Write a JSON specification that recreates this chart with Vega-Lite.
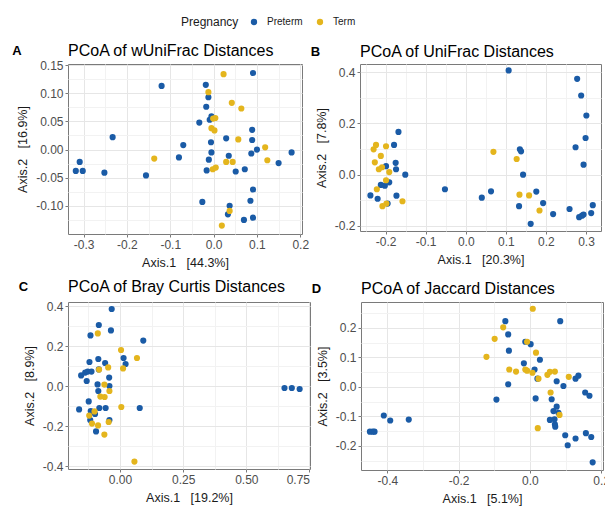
{
  "$schema": "https://vega.github.io/schema/vega-lite/v6.json",
  "padding": {"left": 12, "right": 0, "top": 17, "bottom": 2},
  "config": {
    "font": "Liberation Sans",
    "view": {"stroke": "#7a7a7a", "strokeWidth": 1},
    "axis": {"domain": false, "tickColor": "#7a7a7a", "tickSize": 3, "labelColor": "#4d4d4d", "labelFontSize": 12, "titleColor": "#1a1a1a", "titleFontSize": 12.5, "titleFontWeight": "normal", "gridColor": "#E6E6E6", "labelPadding": 2, "titlePadding": 6},
    "title": {"fontSize": 16, "fontWeight": "normal", "anchor": "start", "color": "#000000"}
  },
  "datasets": {
    "a": [
      {"g":"Preterm","x":0.091,"y":0.136},{"g":"Preterm","x":-0.120,"y":0.113},{"g":"Preterm","x":-0.018,"y":0.115},{"g":"Preterm","x":-0.012,"y":0.093},{"g":"Preterm","x":-0.017,"y":0.076},{"g":"Preterm","x":-0.005,"y":0.059},{"g":"Preterm","x":-0.009,"y":0.053},{"g":"Preterm","x":-0.033,"y":0.048},{"g":"Preterm","x":-0.233,"y":0.022},{"g":"Preterm","x":-0.070,"y":0.008},{"g":"Preterm","x":-0.309,"y":-0.022},{"g":"Preterm","x":-0.318,"y":-0.038},{"g":"Preterm","x":-0.302,"y":-0.038},{"g":"Preterm","x":-0.252,"y":-0.041},{"g":"Preterm","x":-0.156,"y":-0.046},{"g":"Preterm","x":-0.080,"y":-0.014},{"g":"Preterm","x":0.089,"y":0.035},{"g":"Preterm","x":0.089,"y":0.017},{"g":"Preterm","x":-0.006,"y":0.013},{"g":"Preterm","x":0.029,"y":0.020},{"g":"Preterm","x":-0.005,"y":-0.005},{"g":"Preterm","x":0.035,"y":-0.011},{"g":"Preterm","x":0.087,"y":-0.007},{"g":"Preterm","x":0.100,"y":0.000},{"g":"Preterm","x":0.180,"y":-0.005},{"g":"Preterm","x":0.150,"y":-0.024},{"g":"Preterm","x":-0.011,"y":-0.018},{"g":"Preterm","x":-0.016,"y":-0.037},{"g":"Preterm","x":0.051,"y":-0.039},{"g":"Preterm","x":0.072,"y":-0.035},{"g":"Preterm","x":0.091,"y":-0.071},{"g":"Preterm","x":-0.026,"y":-0.093},{"g":"Preterm","x":0.037,"y":-0.100},{"g":"Preterm","x":0.085,"y":-0.091},{"g":"Preterm","x":0.033,"y":-0.115},{"g":"Preterm","x":0.070,"y":-0.125},{"g":"Preterm","x":0.091,"y":-0.121},
      {"g":"Term","x":0.023,"y":0.134},{"g":"Term","x":-0.012,"y":0.102},{"g":"Term","x":0.042,"y":0.083},{"g":"Term","x":0.064,"y":0.073},{"g":"Term","x":0.004,"y":0.056},{"g":"Term","x":-0.001,"y":0.055},{"g":"Term","x":-0.005,"y":0.038},{"g":"Term","x":0.002,"y":0.034},{"g":"Term","x":0.057,"y":0.018},{"g":"Term","x":0.119,"y":0.004},{"g":"Term","x":-0.137,"y":-0.016},{"g":"Term","x":0.029,"y":-0.022},{"g":"Term","x":0.044,"y":-0.022},{"g":"Term","x":0.124,"y":-0.019},{"g":"Term","x":-0.002,"y":-0.035},{"g":"Term","x":0.005,"y":-0.032},{"g":"Term","x":0.037,"y":-0.109},{"g":"Term","x":0.019,"y":-0.135}
    ],
    "b": [
      {"g":"Preterm","x":0.107,"y":0.407},{"g":"Preterm","x":0.278,"y":0.374},{"g":"Preterm","x":0.288,"y":0.309},{"g":"Preterm","x":0.301,"y":0.231},{"g":"Preterm","x":0.299,"y":0.143},{"g":"Preterm","x":0.274,"y":0.107},{"g":"Preterm","x":0.294,"y":0.039},{"g":"Preterm","x":-0.168,"y":0.167},{"g":"Preterm","x":-0.179,"y":0.116},{"g":"Preterm","x":-0.175,"y":0.046},{"g":"Preterm","x":-0.174,"y":0.021},{"g":"Preterm","x":-0.151,"y":0.000},{"g":"Preterm","x":-0.199,"y":0.033},{"g":"Preterm","x":-0.212,"y":-0.040},{"g":"Preterm","x":-0.191,"y":-0.030},{"g":"Preterm","x":-0.202,"y":-0.043},{"g":"Preterm","x":-0.238,"y":-0.081},{"g":"Preterm","x":-0.220,"y":-0.094},{"g":"Preterm","x":-0.173,"y":-0.082},{"g":"Preterm","x":-0.195,"y":-0.113},{"g":"Preterm","x":-0.052,"y":-0.057},{"g":"Preterm","x":0.040,"y":-0.090},{"g":"Preterm","x":0.063,"y":-0.065},{"g":"Preterm","x":0.133,"y":-0.123},{"g":"Preterm","x":0.135,"y":0.099},{"g":"Preterm","x":0.138,"y":0.091},{"g":"Preterm","x":0.143,"y":0.000},{"g":"Preterm","x":0.176,"y":-0.066},{"g":"Preterm","x":0.193,"y":-0.111},{"g":"Preterm","x":0.218,"y":-0.154},{"g":"Preterm","x":0.162,"y":-0.192},{"g":"Preterm","x":0.259,"y":-0.134},{"g":"Preterm","x":0.283,"y":-0.166},{"g":"Preterm","x":0.290,"y":-0.160},{"g":"Preterm","x":0.294,"y":-0.156},{"g":"Preterm","x":0.313,"y":-0.150},{"g":"Preterm","x":0.317,"y":-0.119},
      {"g":"Term","x":-0.230,"y":0.099},{"g":"Term","x":-0.224,"y":0.116},{"g":"Term","x":-0.199,"y":0.111},{"g":"Term","x":-0.212,"y":0.073},{"g":"Term","x":-0.227,"y":0.048},{"g":"Term","x":-0.209,"y":0.029},{"g":"Term","x":-0.217,"y":0.021},{"g":"Term","x":-0.191,"y":0.010},{"g":"Term","x":-0.199,"y":-0.022},{"g":"Term","x":-0.222,"y":-0.057},{"g":"Term","x":-0.208,"y":-0.123},{"g":"Term","x":-0.198,"y":-0.113},{"g":"Term","x":-0.158,"y":-0.104},{"g":"Term","x":0.069,"y":0.089},{"g":"Term","x":0.127,"y":0.061},{"g":"Term","x":0.134,"y":-0.078},{"g":"Term","x":0.158,"y":-0.081},{"g":"Term","x":0.184,"y":-0.140}
    ],
    "c": [
      {"g":"Preterm","x":-0.033,"y":0.385},{"g":"Preterm","x":-0.084,"y":0.305},{"g":"Preterm","x":-0.036,"y":0.278},{"g":"Preterm","x":-0.117,"y":0.253},{"g":"Preterm","x":0.092,"y":0.227},{"g":"Preterm","x":0.014,"y":0.140},{"g":"Preterm","x":0.022,"y":0.110},{"g":"Preterm","x":-0.121,"y":0.120},{"g":"Preterm","x":-0.086,"y":0.135},{"g":"Preterm","x":-0.059,"y":0.115},{"g":"Preterm","x":-0.154,"y":0.053},{"g":"Preterm","x":-0.138,"y":0.067},{"g":"Preterm","x":-0.128,"y":0.072},{"g":"Preterm","x":-0.113,"y":0.072},{"g":"Preterm","x":-0.132,"y":0.025},{"g":"Preterm","x":-0.084,"y":0.083},{"g":"Preterm","x":-0.043,"y":0.042},{"g":"Preterm","x":-0.089,"y":0.008},{"g":"Preterm","x":-0.042,"y":0.000},{"g":"Preterm","x":-0.086,"y":-0.025},{"g":"Preterm","x":-0.124,"y":-0.077},{"g":"Preterm","x":-0.162,"y":-0.117},{"g":"Preterm","x":-0.082,"y":-0.110},{"g":"Preterm","x":-0.057,"y":-0.110},{"g":"Preterm","x":0.078,"y":-0.110},{"g":"Preterm","x":-0.116,"y":-0.125},{"g":"Preterm","x":-0.099,"y":-0.140},{"g":"Preterm","x":-0.118,"y":-0.170},{"g":"Preterm","x":-0.042,"y":-0.170},{"g":"Preterm","x":-0.095,"y":-0.227},{"g":"Preterm","x":0.651,"y":-0.010},{"g":"Preterm","x":0.680,"y":-0.010},{"g":"Preterm","x":0.711,"y":-0.015},
      {"g":"Term","x":-0.088,"y":0.263},{"g":"Term","x":0.004,"y":0.180},{"g":"Term","x":0.067,"y":0.140},{"g":"Term","x":0.012,"y":0.088},{"g":"Term","x":-0.083,"y":0.082},{"g":"Term","x":-0.047,"y":0.093},{"g":"Term","x":-0.062,"y":0.007},{"g":"Term","x":-0.042,"y":-0.025},{"g":"Term","x":-0.078,"y":-0.053},{"g":"Term","x":-0.061,"y":-0.055},{"g":"Term","x":0.005,"y":-0.105},{"g":"Term","x":-0.122,"y":-0.148},{"g":"Term","x":-0.101,"y":-0.127},{"g":"Term","x":-0.111,"y":-0.188},{"g":"Term","x":-0.087,"y":-0.197},{"g":"Term","x":-0.045,"y":-0.180},{"g":"Term","x":-0.062,"y":-0.243},{"g":"Term","x":0.057,"y":-0.378}
    ],
    "d": [
      {"g":"Preterm","x":-0.069,"y":0.223},{"g":"Preterm","x":0.085,"y":0.223},{"g":"Preterm","x":-0.061,"y":0.178},{"g":"Preterm","x":-0.013,"y":0.153},{"g":"Preterm","x":0.002,"y":0.145},{"g":"Preterm","x":-0.059,"y":0.123},{"g":"Preterm","x":0.028,"y":0.092},{"g":"Preterm","x":-0.017,"y":0.080},{"g":"Preterm","x":0.013,"y":0.059},{"g":"Preterm","x":0.021,"y":0.028},{"g":"Preterm","x":0.128,"y":0.028},{"g":"Preterm","x":0.136,"y":0.038},{"g":"Preterm","x":-0.061,"y":0.009},{"g":"Preterm","x":0.075,"y":0.019},{"g":"Preterm","x":0.094,"y":0.003},{"g":"Preterm","x":-0.094,"y":-0.043},{"g":"Preterm","x":0.016,"y":-0.039},{"g":"Preterm","x":0.061,"y":-0.042},{"g":"Preterm","x":0.155,"y":-0.019},{"g":"Preterm","x":0.167,"y":-0.030},{"g":"Preterm","x":0.075,"y":-0.067},{"g":"Preterm","x":0.066,"y":-0.082},{"g":"Preterm","x":0.080,"y":-0.088},{"g":"Preterm","x":0.056,"y":-0.112},{"g":"Preterm","x":0.069,"y":-0.110},{"g":"Preterm","x":0.070,"y":-0.127},{"g":"Preterm","x":0.071,"y":-0.135},{"g":"Preterm","x":0.099,"y":-0.164},{"g":"Preterm","x":0.106,"y":-0.198},{"g":"Preterm","x":0.128,"y":-0.175},{"g":"Preterm","x":0.157,"y":-0.157},{"g":"Preterm","x":0.172,"y":-0.170},{"g":"Preterm","x":0.176,"y":-0.256},{"g":"Preterm","x":-0.410,"y":-0.097},{"g":"Preterm","x":-0.392,"y":-0.114},{"g":"Preterm","x":-0.340,"y":-0.111},{"g":"Preterm","x":-0.449,"y":-0.152},{"g":"Preterm","x":-0.441,"y":-0.152},{"g":"Preterm","x":-0.436,"y":-0.152},
      {"g":"Term","x":0.008,"y":0.265},{"g":"Term","x":-0.075,"y":0.202},{"g":"Term","x":-0.099,"y":0.163},{"g":"Term","x":-0.122,"y":0.102},{"g":"Term","x":-0.008,"y":0.153},{"g":"Term","x":0.017,"y":0.116},{"g":"Term","x":-0.058,"y":0.059},{"g":"Term","x":-0.039,"y":0.052},{"g":"Term","x":-0.013,"y":0.059},{"g":"Term","x":-0.008,"y":0.055},{"g":"Term","x":0.007,"y":0.048},{"g":"Term","x":0.024,"y":0.028},{"g":"Term","x":0.049,"y":0.041},{"g":"Term","x":0.056,"y":0.051},{"g":"Term","x":0.070,"y":0.052},{"g":"Term","x":0.109,"y":0.034},{"g":"Term","x":0.058,"y":-0.019},{"g":"Term","x":0.083,"y":-0.095},{"g":"Term","x":0.022,"y":-0.140}
    ]
  },
  "spacing": 9,
  "vconcat": [
    {
      "spacing": 0,
      "hconcat": [
        {
          "title": {"text": "A", "anchor": "start", "frame": "bounds", "fontWeight": "bold", "fontSize": 13, "offset": -15, "dx": -4},
          "vconcat": [
            {
              "width": 234, "height": 170,
              "title": {"text": "PCoA of wUniFrac Distances", "anchor": "start", "frame": "group", "offset": 0},
              "data": {"name": "a"},
              "resolve": {"axis": {"x": "independent", "y": "independent"}},
              "layer": [
                {
                  "mark": {"type": "circle", "size": 38, "opacity": 1},
                  "encoding": {
                    "x": {"field": "x", "type": "quantitative", "scale": {"domain": [-0.336, 0.204], "nice": false, "zero": false}, "axis": {"values": [-0.3, -0.2, -0.1, 0, 0.1, 0.2], "format": ".1f", "labelExpr": "replace(datum.label, '\u2212', '-')", "title": "Axis.1\u00a0\u00a0\u00a0[44.3%]"}},
                    "y": {"field": "y", "type": "quantitative", "scale": {"domain": [-0.150, 0.152], "nice": false, "zero": false}, "axis": {"values": [-0.1, -0.05, 0, 0.05, 0.1, 0.15], "format": ".2f", "labelExpr": "replace(datum.label, '\u2212', '-')", "title": "Axis.2\u00a0\u00a0\u00a0[16.9%]"}},
                    "color": {"field": "g", "type": "nominal", "scale": {"domain": ["Preterm", "Term"], "range": ["#1a5ba6", "#e4b51d"]}, "legend": {"title": "Pregnancy", "orient": "none", "legendX": 113, "legendY": -47, "direction": "horizontal", "titleOrient": "left", "titlePadding": 10, "titleFontSize": 12, "titleFontWeight": "normal", "titleColor": "#1a1a1a", "labelFontSize": 10, "labelOffset": 8, "labelColor": "#1a1a1a", "symbolType": "circle", "symbolSize": 40, "symbolStrokeWidth": 0, "columnPadding": 12}}
                  }
                },
                {
                  "mark": {"type": "point", "opacity": 0},
                  "encoding": {
                    "x": {"field": "x", "type": "quantitative", "scale": {"domain": [-0.336, 0.204], "nice": false, "zero": false}, "axis": {"orient": "top", "values": [-0.25, -0.15, -0.05, 0.05, 0.15], "grid": true, "gridColor": "#F2F2F2", "labels": false, "ticks": false, "domain": false, "title": null}},
                    "y": {"field": "y", "type": "quantitative", "scale": {"domain": [-0.150, 0.152], "nice": false, "zero": false}, "axis": {"orient": "right", "values": [-0.125, -0.075, -0.025, 0.025, 0.075, 0.125], "grid": true, "gridColor": "#F2F2F2", "labels": false, "ticks": false, "domain": false, "title": null}}
                  }
                }
              ]
            }
          ]
        },
        {
          "title": {"text": "B", "anchor": "start", "frame": "bounds", "fontWeight": "bold", "fontSize": 13, "offset": -15, "dx": -4},
          "vconcat": [
            {
              "width": 241, "height": 167,
              "title": {"text": "PCoA of UniFrac Distances", "anchor": "start", "frame": "group", "offset": 4},
              "data": {"name": "b"},
              "resolve": {"axis": {"x": "independent", "y": "independent"}},
              "layer": [
                {
                  "mark": {"type": "circle", "size": 38, "opacity": 1},
                  "encoding": {
                    "x": {"field": "x", "type": "quantitative", "scale": {"domain": [-0.264, 0.3375], "nice": false, "zero": false}, "axis": {"values": [-0.2, -0.1, 0, 0.1, 0.2, 0.3], "format": ".1f", "labelExpr": "replace(datum.label, '\u2212', '-')", "title": "Axis.1\u00a0\u00a0\u00a0[20.3%]"}},
                    "y": {"field": "y", "type": "quantitative", "scale": {"domain": [-0.22, 0.432], "nice": false, "zero": false}, "axis": {"values": [-0.2, 0, 0.2, 0.4], "format": ".1f", "labelExpr": "replace(datum.label, '\u2212', '-')", "title": "Axis.2\u00a0\u00a0\u00a0[7.8%]"}},
                    "color": {"field": "g", "type": "nominal", "scale": {"domain": ["Preterm", "Term"], "range": ["#1a5ba6", "#e4b51d"]}}
                  }
                },
                {
                  "mark": {"type": "point", "opacity": 0},
                  "encoding": {
                    "x": {"field": "x", "type": "quantitative", "scale": {"domain": [-0.264, 0.3375], "nice": false, "zero": false}, "axis": {"orient": "top", "values": [-0.25, -0.15, -0.05, 0.05, 0.15, 0.25], "grid": true, "gridColor": "#F2F2F2", "labels": false, "ticks": false, "domain": false, "title": null}},
                    "y": {"field": "y", "type": "quantitative", "scale": {"domain": [-0.22, 0.432], "nice": false, "zero": false}, "axis": {"orient": "right", "values": [-0.1, 0.1, 0.3], "grid": true, "gridColor": "#F2F2F2", "labels": false, "ticks": false, "domain": false, "title": null}}
                  }
                }
              ]
            }
          ]
        }
      ]
    },
    {
      "spacing": 0,
      "hconcat": [
        {
          "title": {"text": "C", "anchor": "start", "frame": "bounds", "fontWeight": "bold", "fontSize": 13, "offset": -15, "dx": -4},
          "vconcat": [
            {
              "width": 242, "height": 167,
              "title": {"text": "PCoA of Bray Curtis Distances", "anchor": "start", "frame": "group", "offset": 5},
              "data": {"name": "c"},
              "resolve": {"axis": {"x": "independent", "y": "independent"}},
              "layer": [
                {
                  "mark": {"type": "circle", "size": 38, "opacity": 1},
                  "encoding": {
                    "x": {"field": "x", "type": "quantitative", "scale": {"domain": [-0.206, 0.752], "nice": false, "zero": false}, "axis": {"values": [0, 0.25, 0.5, 0.75], "format": ".2f", "labelExpr": "replace(datum.label, '\u2212', '-')", "title": "Axis.1\u00a0\u00a0\u00a0[19.2%]"}},
                    "y": {"field": "y", "type": "quantitative", "scale": {"domain": [-0.415, 0.42], "nice": false, "zero": false}, "axis": {"values": [-0.4, -0.2, 0, 0.2, 0.4], "format": ".1f", "labelExpr": "replace(datum.label, '\u2212', '-')", "title": "Axis.2\u00a0\u00a0\u00a0[8.9%]"}},
                    "color": {"field": "g", "type": "nominal", "scale": {"domain": ["Preterm", "Term"], "range": ["#1a5ba6", "#e4b51d"]}}
                  }
                },
                {
                  "mark": {"type": "point", "opacity": 0},
                  "encoding": {
                    "x": {"field": "x", "type": "quantitative", "scale": {"domain": [-0.206, 0.752], "nice": false, "zero": false}, "axis": {"orient": "top", "values": [-0.125, 0.125, 0.375, 0.625], "grid": true, "gridColor": "#F2F2F2", "labels": false, "ticks": false, "domain": false, "title": null}},
                    "y": {"field": "y", "type": "quantitative", "scale": {"domain": [-0.415, 0.42], "nice": false, "zero": false}, "axis": {"orient": "right", "values": [-0.3, -0.1, 0.1, 0.3], "grid": true, "gridColor": "#F2F2F2", "labels": false, "ticks": false, "domain": false, "title": null}}
                  }
                }
              ]
            }
          ]
        },
        {
          "title": {"text": "D", "anchor": "start", "frame": "bounds", "fontWeight": "bold", "fontSize": 13, "offset": -15, "dx": -4},
          "vconcat": [
            {
              "width": 242, "height": 168,
              "title": {"text": "PCoA of Jaccard Distances", "anchor": "start", "frame": "group", "offset": 5},
              "data": {"name": "d"},
              "resolve": {"axis": {"x": "independent", "y": "independent"}},
              "layer": [
                {
                  "mark": {"type": "circle", "size": 38, "opacity": 1},
                  "encoding": {
                    "x": {"field": "x", "type": "quantitative", "scale": {"domain": [-0.474, 0.205], "nice": false, "zero": false}, "axis": {"values": [-0.4, -0.2, 0, 0.2], "format": ".1f", "labelExpr": "replace(datum.label, '\u2212', '-')", "title": "Axis.1\u00a0\u00a0\u00a0[5.1%]"}},
                    "y": {"field": "y", "type": "quantitative", "scale": {"domain": [-0.282, 0.288], "nice": false, "zero": false}, "axis": {"values": [-0.2, -0.1, 0, 0.1, 0.2], "format": ".1f", "labelExpr": "replace(datum.label, '\u2212', '-')", "title": "Axis.2\u00a0\u00a0\u00a0[3.5%]"}},
                    "color": {"field": "g", "type": "nominal", "scale": {"domain": ["Preterm", "Term"], "range": ["#1a5ba6", "#e4b51d"]}}
                  }
                },
                {
                  "mark": {"type": "point", "opacity": 0},
                  "encoding": {
                    "x": {"field": "x", "type": "quantitative", "scale": {"domain": [-0.474, 0.205], "nice": false, "zero": false}, "axis": {"orient": "top", "values": [-0.3, -0.1, 0.1], "grid": true, "gridColor": "#F2F2F2", "labels": false, "ticks": false, "domain": false, "title": null}},
                    "y": {"field": "y", "type": "quantitative", "scale": {"domain": [-0.282, 0.288], "nice": false, "zero": false}, "axis": {"orient": "right", "values": [-0.25, -0.15, -0.05, 0.05, 0.15, 0.25], "grid": true, "gridColor": "#F2F2F2", "labels": false, "ticks": false, "domain": false, "title": null}}
                  }
                }
              ]
            }
          ]
        }
      ]
    }
  ]
}
